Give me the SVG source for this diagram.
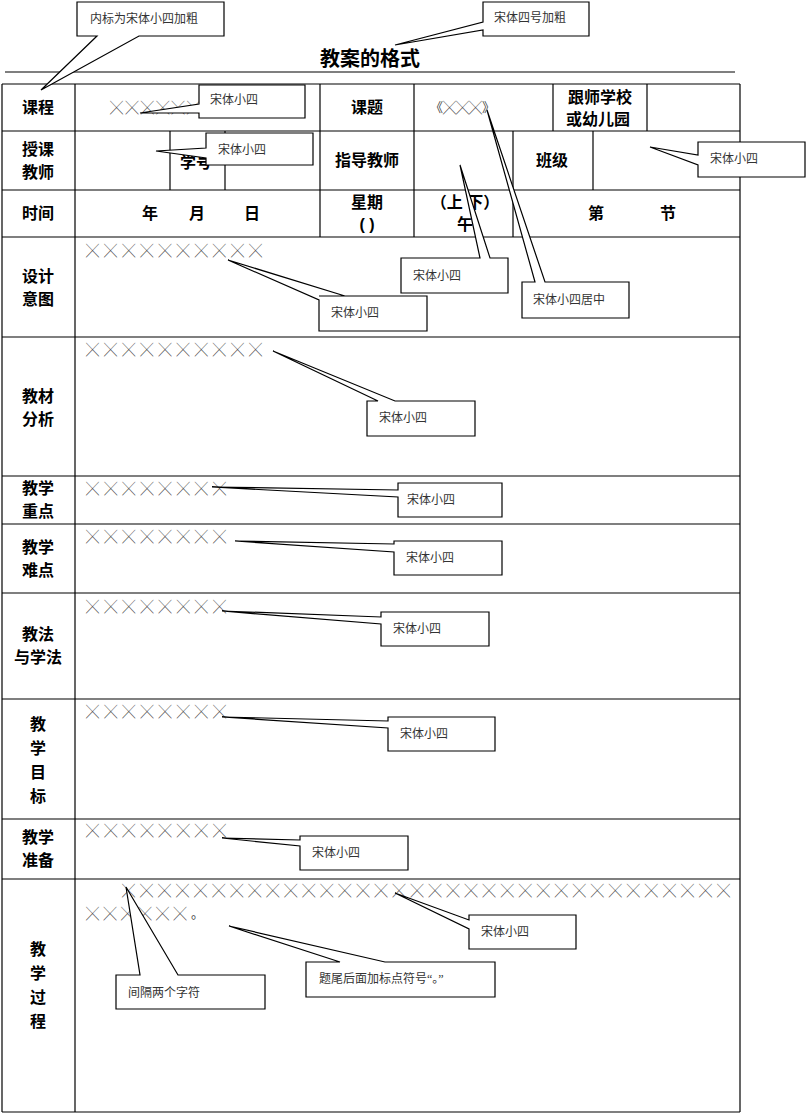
<svg xmlns="http://www.w3.org/2000/svg" width="807" height="1114" viewBox="0 0 807 1114">
<style>
text{font-family:"Liberation Serif","Noto Sans CJK SC",serif;fill:#000}
.b{font-family:"Liberation Sans","Noto Sans CJK SC",sans-serif;font-weight:bold;font-size:16px}
.x{font-family:"Noto Sans CJK SC",sans-serif;font-size:13px;fill:#444}
.c{font-size:12px;fill:#333}
.t line{stroke:#000;stroke-width:1.2}
.co{fill:#fff;stroke:#000;stroke-width:1.2}
</style>
<rect width="807" height="1114" fill="#fff"/>
<g id="title"><text x="370" y="66" class="b" style="font-size:20px" text-anchor="middle">教案的格式</text>
<line x1="5" y1="72" x2="735" y2="72" stroke="#000" stroke-width="1.2"/></g>
<g id="table" class="t">
<line x1="2" y1="84" x2="740" y2="84"/><line x1="2" y1="131" x2="740" y2="131"/><line x1="2" y1="190" x2="740" y2="190"/>
<line x1="2" y1="237" x2="740" y2="237"/><line x1="2" y1="337" x2="740" y2="337"/><line x1="2" y1="476" x2="740" y2="476"/>
<line x1="2" y1="524" x2="740" y2="524"/><line x1="2" y1="593" x2="740" y2="593"/><line x1="2" y1="699" x2="740" y2="699"/>
<line x1="2" y1="819" x2="740" y2="819"/><line x1="2" y1="879" x2="740" y2="879"/><line x1="2" y1="1112" x2="740" y2="1112"/>
<line x1="2" y1="84" x2="2" y2="1112"/><line x1="740" y1="84" x2="740" y2="1112"/><line x1="75" y1="84" x2="75" y2="1112"/>
<line x1="320" y1="84" x2="320" y2="237"/><line x1="414" y1="84" x2="414" y2="237"/>
<line x1="553" y1="84" x2="553" y2="131"/><line x1="647" y1="84" x2="647" y2="131"/>
<line x1="170" y1="131" x2="170" y2="190"/><line x1="225" y1="131" x2="225" y2="190"/>
<line x1="513" y1="131" x2="513" y2="237"/><line x1="593" y1="131" x2="593" y2="190"/>
</g>
<g id="labels">
<text class="b" x="38" y="113" text-anchor="middle">课程</text>
<text class="b" x="38" y="155" text-anchor="middle">授课</text><text class="b" x="38" y="178" text-anchor="middle">教师</text>
<text class="b" x="38" y="219" text-anchor="middle">时间</text>
<text class="b" x="38" y="282" text-anchor="middle">设计</text><text class="b" x="38" y="305" text-anchor="middle">意图</text>
<text class="b" x="38" y="402" text-anchor="middle">教材</text><text class="b" x="38" y="425" text-anchor="middle">分析</text>
<text class="b" x="38" y="494" text-anchor="middle">教学</text><text class="b" x="38" y="517" text-anchor="middle">重点</text>
<text class="b" x="38" y="553" text-anchor="middle">教学</text><text class="b" x="38" y="576" text-anchor="middle">难点</text>
<text class="b" x="38" y="640" text-anchor="middle">教法</text><text class="b" x="38" y="663" text-anchor="middle">与学法</text>
<text class="b" x="38" y="730" text-anchor="middle">教</text><text class="b" x="38" y="754" text-anchor="middle">学</text><text class="b" x="38" y="778" text-anchor="middle">目</text><text class="b" x="38" y="802" text-anchor="middle">标</text>
<text class="b" x="38" y="843" text-anchor="middle">教学</text><text class="b" x="38" y="866" text-anchor="middle">准备</text>
<text class="b" x="38" y="955" text-anchor="middle">教</text><text class="b" x="38" y="979" text-anchor="middle">学</text><text class="b" x="38" y="1003" text-anchor="middle">过</text><text class="b" x="38" y="1027" text-anchor="middle">程</text>
<text class="b" x="367" y="113" text-anchor="middle">课题</text>
<text class="b" x="600" y="103" text-anchor="middle">跟师学校</text><text class="b" x="598" y="125" text-anchor="middle">或幼儿园</text>
<text class="b" x="180" y="168">学号</text>
<text class="b" x="367" y="166" text-anchor="middle">指导教师</text>
<text class="b" x="552" y="166" text-anchor="middle">班级</text>
<text class="b" x="142" y="219">年</text><text class="b" x="189" y="219">月</text><text class="b" x="244" y="219">日</text>
<text class="b" x="367" y="208" text-anchor="middle">星期</text><text class="b" x="367" y="230" text-anchor="middle">(      )</text>
<text class="b" x="465" y="208" text-anchor="middle">（上  下）</text><text class="b" x="465" y="230" text-anchor="middle">午</text>
<text class="b" x="588" y="219">第</text><text class="b" x="660" y="219">节</text>
<text class="x" x="110" y="112" textLength="90">╳╳╳╳╳╳</text>
<text class="x" x="430" y="112">《╳╳╳》</text>
<text class="x" x="86" y="255" textLength="176">╳╳╳╳╳╳╳╳╳╳</text>
<text class="x" x="86" y="354" textLength="176">╳╳╳╳╳╳╳╳╳╳</text>
<text class="x" x="86" y="493" textLength="140">╳╳╳╳╳╳╳╳</text>
<text class="x" x="86" y="541" textLength="140">╳╳╳╳╳╳╳╳</text>
<text class="x" x="86" y="611" textLength="140">╳╳╳╳╳╳╳╳</text>
<text class="x" x="86" y="716" textLength="140">╳╳╳╳╳╳╳╳</text>
<text class="x" x="86" y="835" textLength="140">╳╳╳╳╳╳╳╳</text>
<text class="x" x="122" y="895" textLength="608">╳╳╳╳╳╳╳╳╳╳╳╳╳╳╳╳╳╳╳╳╳╳╳╳╳╳╳╳╳╳╳╳╳╳</text>
<text class="x" x="86" y="918" textLength="118">╳╳╳╳╳╳。</text>
</g>
<g id="callouts">
<path class="co" d="M77,2H224V36H139L41,90L97,36H77Z"/><text class="c" x="90" y="23">内标为宋体小四加粗</text>
<path class="co" d="M483,2H589V36H483V30L395,45L483,22Z"/><text class="c" x="494" y="22">宋体四号加粗</text>
<path class="co" d="M199,85H305V118H199V113L140,113L199,104Z"/><text class="c" x="210" y="104">宋体小四</text>
<path class="co" d="M206,133H313V165H206V158L156,151L206,148Z"/><text class="c" x="218" y="154">宋体小四</text>
<path class="co" d="M698,142H805V177H698V165L650,147L698,155Z"/><text class="c" x="710" y="163">宋体小四</text>
<path class="co" d="M401,258H480L460,165L490,258H508V293H401Z"/><text class="c" x="413" y="280">宋体小四</text>
<path class="co" d="M522,282H535L487,110L545,282H629V318H522Z"/><text class="c" x="533" y="304">宋体小四居中</text>
<path class="co" d="M319,296H345L228,260L319,300V331H427V296Z" /><text class="c" x="331" y="317">宋体小四</text>
<path class="co" d="M367,401H378L273,351L395,401H475V436H367Z"/><text class="c" x="379" y="422">宋体小四</text>
<path class="co" d="M398,483H502V517H398V497L212,487L398,490Z"/><text class="c" x="407" y="504">宋体小四</text>
<path class="co" d="M394,541H502V575H394V552L235,541L394,544Z"/><text class="c" x="406" y="562">宋体小四</text>
<path class="co" d="M381,612H489V646H381V624L222,611L381,617Z"/><text class="c" x="393" y="633">宋体小四</text>
<path class="co" d="M388,717H495V751H388V728L222,717L388,721Z"/><text class="c" x="400" y="738">宋体小四</text>
<path class="co" d="M300,836H408V870H300V846L222,838L300,840Z"/><text class="c" x="312" y="857">宋体小四</text>
<path class="co" d="M469,915H576V949H469V929L395,893L469,920Z"/><text class="c" x="481" y="936">宋体小四</text>
<path class="co" d="M306,962H340L229,926L385,962H495V997H306Z"/><text class="c" x="319" y="983">题尾后面加标点符号“。”</text>
<path class="co" d="M116,975H140L126,887L178,975H265V1009H116Z"/><text class="c" x="128" y="997">间隔两个字符</text>
</g>
</svg>
